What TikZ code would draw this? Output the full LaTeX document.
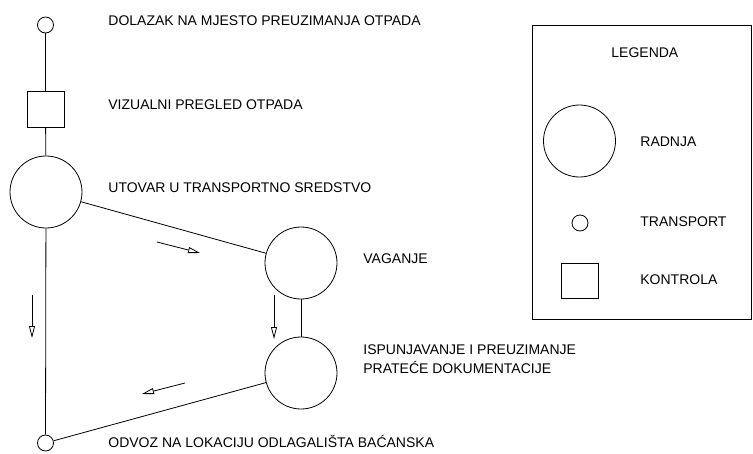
\documentclass[tikz,border=0pt]{standalone}
\usepackage{fontspec}
\setmainfont{Liberation Sans}
\usetikzlibrary{arrows.meta}
\begin{document}
\begin{tikzpicture}[x=1pt,y=-1pt,line width=0.8pt,
  radnja/.style={circle,draw,minimum size=72pt,inner sep=0pt},
  transp/.style={circle,draw,minimum size=16pt,inner sep=0pt},
  kontrola/.style={rectangle,draw,minimum width=37pt,minimum height=36pt,inner sep=0pt},
  lbl/.style={anchor=base west,inner sep=0pt,font=\fontsize{14}{19}\selectfont,align=left},
  flow/.style={-{Triangle[open,length=12pt,width=6pt]}}]
\useasboundingbox[fill=white] (0,0) rectangle (753,453);
% process chain
\node[transp]   (t1) at (45.5,25) {};
\node[kontrola] (k1) at (45.5,109) {};
\node[radnja]   (r1) at (46,192) {};
\node[radnja]   (r2) at (301,263) {};
\node[radnja]   (r3) at (301,373) {};
\node[transp]   (t2) at (45.5,443) {};
\draw (t1) -- (k1);
\draw (k1) -- (r1);
\draw (r1) -- (t2);
\draw (r1) -- (r2);
\draw (r2) -- (r3);
\draw (r3) -- (t2);
% labels
\node[lbl] (l1) at (108,25) {DOLAZAK NA MJESTO PREUZIMANJA OTPADA};
\node[lbl] (l2) at (108,109) {VIZUALNI PREGLED OTPADA};
\node[lbl] (l3) at (108,192) {UTOVAR U TRANSPORTNO SREDSTVO};
\node[lbl] (l4) at (363,263) {VAGANJE};
\node[lbl] (l5) at (363,373.5) {ISPUNJAVANJE I PREUZIMANJE\\PRATEĆE DOKUMENTACIJE};
\node[lbl] (l6) at (108,447) {ODVOZ NA LOKACIJU ODLAGALIŠTA BAĆANSKA};
% direction arrows
\coordinate (a1s) at (157,242); \coordinate (a1e) at (200,253);
\coordinate (a2s) at (32,295);  \coordinate (a2e) at (32,338);
\coordinate (a3s) at (274,295); \coordinate (a3e) at (274,339);
\coordinate (a4s) at (185,383); \coordinate (a4e) at (142,394);
\draw[flow] (a1s) -- (a1e);
\draw[flow] (a2s) -- (a2e);
\draw[flow] (a3s) -- (a3e);
\draw[flow] (a4s) -- (a4e);
% legend
\node[draw,rectangle,minimum width=219.5pt,minimum height=294pt,inner sep=0pt] (leg) at (641.75,172) {};
\node[lbl] (lg) at (611,57) {LEGENDA};
\node[radnja]   (lr) at (579.5,141) {};
\node[transp]   (lt) at (580,223) {};
\node[kontrola,minimum height=35pt] (lk) at (579.5,280.5) {};
\node[lbl] (lrt) at (640,146) {RADNJA};
\node[lbl] (ltt) at (640,226) {TRANSPORT};
\node[lbl] (lkt) at (640,284) {KONTROLA};
\end{tikzpicture}
\end{document}
